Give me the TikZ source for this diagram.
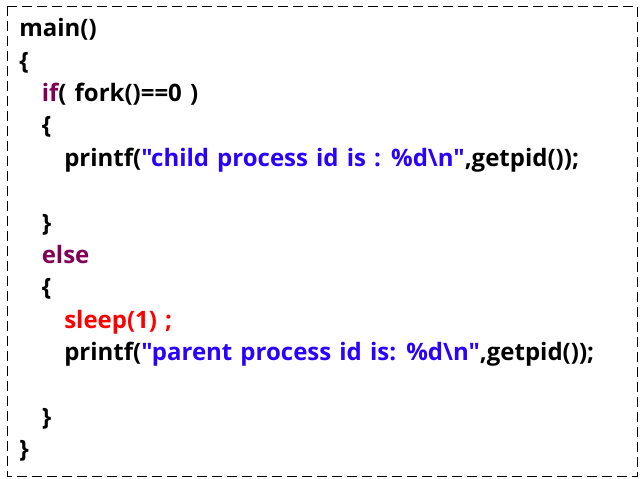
\documentclass[tikz,border=0pt]{standalone}
\usepackage{fontspec}
\newfontfamily\codefont{Open Sans}[WordSpace=1.3]
\definecolor{kwpurple}{HTML}{7F0055}
\definecolor{strblue}{HTML}{2A00FF}
\definecolor{callred}{HTML}{FF0000}
\tikzset{codetext/.style={anchor=base west, inner sep=0pt, font=\codefont\bfseries\fontsize{18}{21}\selectfont},
  codeframe/.style={line width=0.75pt, dash pattern=on 7.5pt off 3.75pt}}
\newcommand{\codeline}[4]{\node[codetext] (#1) at ( #2 , #3 ) {#4};}
\newcommand{\kw}[1]{\textcolor{kwpurple}{#1}}
\newcommand{\str}[1]{\textcolor{strblue}{#1}}
\begin{document}
\begin{tikzpicture}[x=0.75pt,y=-0.75pt]
        \useasboundingbox (0,0) rectangle (644,479);
        \draw[codeframe] (7.5,6) rectangle (637,476.5);

        % outer block
        \codeline{main}{19}{36.7}{main()}
        \codeline{open1}{19}{69.1}{\{}

        % if branch
        \codeline{if}{41.5}{101.5}{\kw{if}( fork()==0 )}
        \codeline{open2}{41.5}{133.9}{\{}
        \codeline{child}{64}{166.3}{printf(\str{"child process id is : \%d\textbackslash n"},getpid());}
        \codeline{close2}{41.5}{231.1}{\}}

        % else branch
        \codeline{else}{41.5}{263.5}{\kw{else}}
        \codeline{open3}{41.5}{295.9}{\{}
        \codeline{sleep}{64}{328.3}{\textcolor{callred}{sleep(1) ;}}
        \codeline{parent}{64}{360.7}{printf(\str{"parent process id is: \%d\textbackslash n"},getpid());}
        \codeline{close3}{41.5}{425.5}{\}}
        \codeline{close1}{19}{457.9}{\}}
\end{tikzpicture}
\end{document}
